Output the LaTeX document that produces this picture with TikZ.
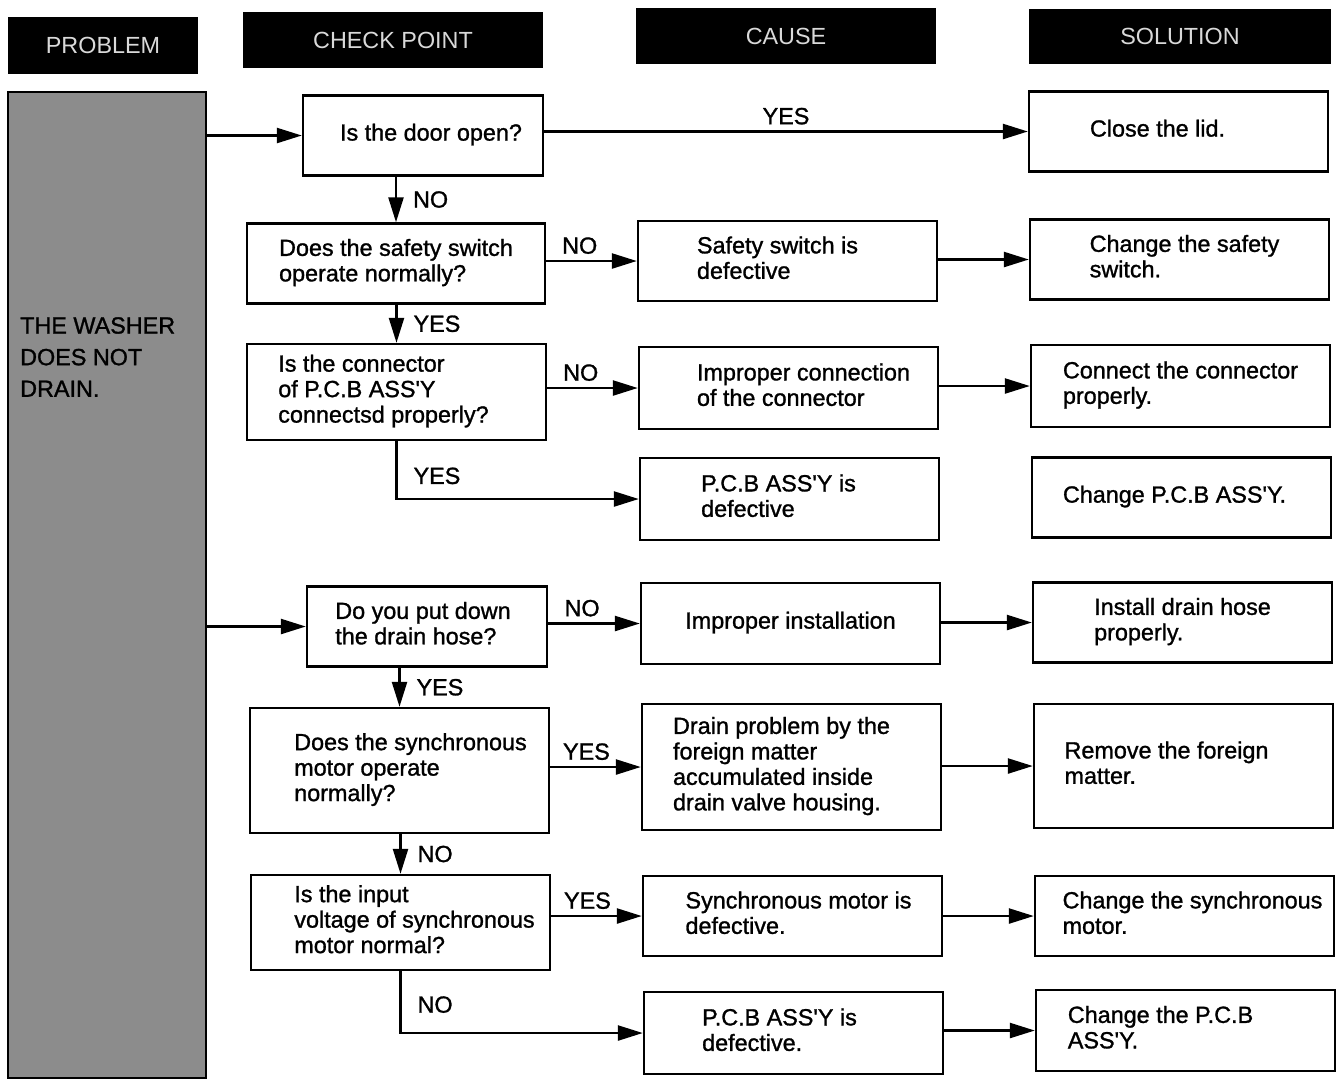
\documentclass[tikz,border=0pt]{standalone}
\usepackage{fontspec}
\setmainfont{Liberation Sans}
\newfontfamily\medfont{Liberation Sans}[FakeBold=1.2]
\usetikzlibrary{positioning,arrows.meta}
% left aligned lines, moved sideways by half of the optional length
\newcommand{\blk}[2][0pt]{\begin{tabular}{@{\hspace*{#1}}l@{}}#2\end{tabular}}

\begin{document}
\begin{tikzpicture}[x=0.02cm,y=-0.02cm,
  box/.style={draw,line width=1.4pt,minimum width=5.98cm,minimum height=1.6cm,
    font=\medfont\fontsize{13.3}{14.5}\selectfont},
  head/.style={fill=black,text=white!85!black,minimum width=6cm,minimum height=1.12cm,
    font=\fontsize{13.3}{14.5}\selectfont},
  arr/.style={line width=1.4pt,-{Triangle[length=0.5cm,width=0.3cm]}},
  lbl/.style={font=\medfont\fontsize{13.3}{14.5}\selectfont}]
\useasboundingbox (0,0) rectangle (1337,1080);

% column heads
\node[head,minimum width=3.8cm,minimum height=1.14cm] (hprob) at (103,45) {PROBLEM};
\node[head] (hcheck) at (393,40) {CHECK POINT};
\node[head] (hcause) at (786,36) {CAUSE};
\node[head,minimum width=6.06cm,minimum height=1.1cm] (hsol) at (1180,36) {SOLUTION};

% problem
\node[draw,line width=1pt,fill=black!45,minimum width=3.96cm,
minimum height=19.72cm] (prob) at (107,585) {};
\node[anchor=west,align=left,font=\medfont\fontsize{13.3}{18}\selectfont] (probtext)
  at (14,357) {THE WASHER\\DOES NOT\\DRAIN.};

% check points
\node[box,minimum width=4.8cm] (door) at (423,135.5) {\blk[0.32cm]{Is the door open?}};
\node[box,minimum width=5.96cm] (safety) at (396,263.5)
  {\blk{Does the safety switch\\operate normally?}};
\node[box,minimum height=1.92cm] (conn) at (396.5,392)
  {\blk[-0.52cm]{Is the connector\\of P.C.B ASS\textquotesingle Y\\connectsd properly?}};
\node[box,minimum width=4.8cm] (hose) at (427,626.5)
  {\blk[-0.16cm]{Do you put down\\the drain hose?}};
\node[box,minimum height=2.5cm] (sync) at (399.5,770.5)
  {\blk[0.44cm]{Does the synchronous\\motor operate\\normally?}};
\node[box,minimum height=1.9cm] (volt) at (400.5,922.5)
  {\blk[0.56cm]{Is the input\\voltage of synchronous\\motor normal?}};

% causes
\node[box] (swdef) at (787.5,261) {\blk[-0.4cm]{Safety switch is\\defective}};
\node[box,minimum height=1.64cm] (imconn) at (788.5,388)
  {\blk[0.6cm]{Improper connection\\of the connector}};
\node[box,minimum height=1.64cm] (pcbdef) at (789.5,499)
  {\blk[-0.44cm]{P.C.B ASS\textquotesingle Y is\\defective}};
\node[box,minimum height=1.62cm] (iminst) at (790.5,623.5)
  {\blk{Improper installation}};
\node[box,minimum height=2.52cm] (foreign) at (791.5,767)
  {\blk[-0.4cm]{Drain problem by the\\foreign matter\\accumulated inside\\drain valve housing.}};
\node[box] (motdef) at (792.5,916) {\blk[0.24cm]{Synchronous motor is\\defective.}};
\node[box,minimum height=1.64cm] (pcbdefb) at (793.5,1033)
  {\blk[-0.56cm]{P.C.B ASS\textquotesingle Y is\\defective.}};

% solutions
\node[box] (lid) at (1178.5,131.5) {\blk[-0.84cm]{Close the lid.}};
\node[box] (chsw) at (1179.5,259.5) {\blk[0.2cm]{Change the safety\\switch.}};
\node[box,minimum height=1.64cm] (conconn) at (1180.5,386)
  {\blk{Connect the connector\\properly.}};
\node[box] (chpcb) at (1181.5,497.5) {\blk[-0.28cm]{Change P.C.B ASS\textquotesingle Y.}};
\node[box] (insthose) at (1182.5,622.5) {\blk{Install drain hose\\properly.}};
\node[box,minimum height=2.48cm] (remove) at (1183.5,766)
  {\blk[-0.68cm]{Remove the foreign\\matter.}};
\node[box] (chmot) at (1184.5,916) {\blk[0.32cm]{Change the synchronous\\motor.}};
\node[box,minimum height=1.62cm] (chpcbb) at (1185.5,1030.5)
  {\blk[-1cm]{Change the P.C.B\\ASS\textquotesingle Y.}};

% first branch
\draw[arr] (prob.east |- door) -- (door.west);
\draw[arr] (door.east |- lid) -- node[lbl,above] {YES} (lid.west);
\draw[arr] (safety.north |- door.south) -- node[lbl,right=0.2cm] {NO} (safety.north);
\draw[arr] (safety.east |- swdef) -- node[lbl,above,pos=0.37] {NO} (swdef.west);
\draw[arr] (swdef.east |- chsw) -- (chsw.west);
\draw[arr] (conn.north |- safety.south) -- node[lbl,right=0.2cm] {YES} (conn.north);
\draw[arr] (conn.east |- imconn) -- node[lbl,above,pos=0.37] {NO} (imconn.west);
\draw[arr] (imconn.east |- conconn) -- (conconn.west);
\draw[arr] (conn.south) |- node[lbl,right=0.2cm,pos=0.3] {YES} (pcbdef.west);

% second branch
\draw[arr] (prob.east |- hose) -- (hose.west);
\draw[arr] (hose.east |- iminst) -- node[lbl,above,pos=0.37] {NO} (iminst.west);
\draw[arr] (iminst.east |- insthose) -- (insthose.west);
\draw[arr] (sync.north |- hose.south) -- node[lbl,right=0.2cm] {YES} (sync.north);
\draw[arr] (sync.east |- foreign) -- node[lbl,above,pos=0.4] {YES} (foreign.west);
\draw[arr] (foreign.east |- remove) -- (remove.west);
\draw[arr] (volt.north |- sync.south) -- node[lbl,right=0.2cm] {NO} (volt.north);
\draw[arr] (volt.east |- motdef) -- node[lbl,above,pos=0.4] {YES} (motdef.west);
\draw[arr] (motdef.east |- chmot) -- (chmot.west);
\draw[arr] (volt.south) |- node[lbl,right=0.2cm,pos=0.27] {NO} (pcbdefb.west);
\draw[arr] (pcbdefb.east |- chpcbb) -- (chpcbb.west);
\end{tikzpicture}
\end{document}
